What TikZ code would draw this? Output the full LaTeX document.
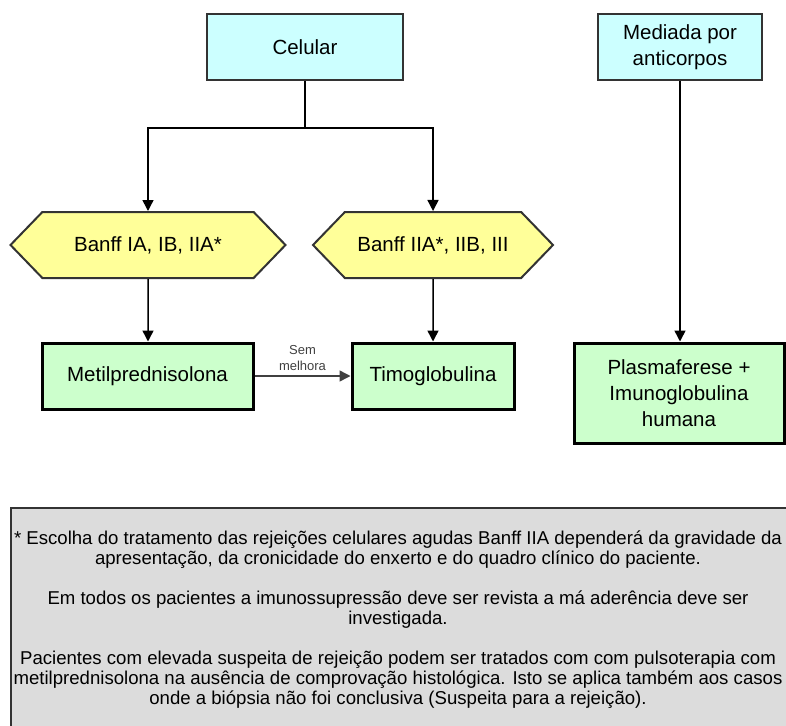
\documentclass[tikz,border=0pt]{standalone}
\usepackage{fontspec}
\setmainfont{Liberation Sans}
\usetikzlibrary{arrows.meta,shapes.symbols}

\definecolor{tipocyan}{HTML}{CCFFFF}
\definecolor{banffyellow}{HTML}{FFFF99}
\definecolor{tratgreen}{HTML}{CCFFCC}
\definecolor{notagray}{HTML}{DCDCDC}

\tikzstyle{every path} = [line width=1.5pt, black]
\tikzstyle{tipobox} = [draw=black!80, line width=2pt, fill=tipocyan, align=center, font=\fontsize{20.5}{26}\selectfont, minimum height=65pt]
\tikzstyle{banff} = [signal, signal to=west and east, signal pointer angle=92, draw=black!80, line width=2pt, fill=banffyellow, font=\fontsize{20.5}{26}\selectfont, minimum height=66pt, inner sep=0pt]
\tikzstyle{trat} = [draw=black, line width=3pt, fill=tratgreen, align=center, font=\fontsize{20.5}{26}\selectfont, minimum height=66pt]
\tikzstyle{seta} = [-{Triangle[length=11pt,width=11pt]}]
\tikzstyle{notabox} = [draw=black!80, line width=2pt, fill=notagray]
\tikzstyle{notatxt} = [align=center, inner sep=0pt, font=\fontsize{18.6}{20}\selectfont]

\begin{document}
\begin{tikzpicture}[x=1pt,y=-1pt]
    \useasboundingbox (0,0) rectangle (786,725);

    % Rejection type
    \node[tipobox, minimum width=196pt] (cel) at (305,47) {Celular};
    \node[tipobox, minimum width=164pt] (med) at (680,47) {Mediada por\\anticorpos};

    % Banff grades
    \node[banff, minimum width=275pt] (banffA) at (148,245) {Banff IA, IB, IIA*};
    \node[banff, minimum width=240pt] (banffB) at (433,245) {Banff IIA*, IIB, III};

    % Treatments
    \node[trat, minimum width=211pt] (metil) at (147.5,376) {Metilprednisolona};
    \node[trat, minimum width=162pt] (timo) at (433,376) {Timoglobulina};
    \node[trat, minimum width=210pt, minimum height=100pt] (plasma) at (679,393) {Plasmaferese +\\Imunoglobulina\\humana};

    % Connectors
    \coordinate (split) at (305,128);
    \draw (cel) -- (split);
    \draw[seta] (split) -| (banffA);
    \draw[seta] (split) -| (banffB);
    \draw[seta] (banffA) -- (banffA |- metil.north);
    \draw[seta] (banffB) -- (banffB |- timo.north);
    \draw[seta] (med) -- (med |- plasma.north);
    \draw[seta, black!75] (metil) -- node[above=1pt, align=center, font=\fontsize{13}{16}\selectfont] (sem) {Sem\\melhora} (timo);

    % Note
    \node[notabox, anchor=north west, minimum width=782pt, minimum height=230pt] (nota) at (10,507) {};
    \node[notatxt, anchor=north] (notatxt) at (398,530) {* Escolha do tratamento das rejeições celulares agudas Banff IIA dependerá da gravidade da\\apresentação, da cronicidade do enxerto e do quadro clínico do paciente.\\[20pt]Em todos os pacientes a imunossupressão deve ser revista a má aderência deve ser\\investigada.\\[20pt]Pacientes com elevada suspeita de rejeição podem ser tratados com com pulsoterapia com\\metilprednisolona na ausência de comprovação histológica. Isto se aplica também aos casos\\onde a biópsia não foi conclusiva (Suspeita para a rejeição).};
\end{tikzpicture}
\end{document}
